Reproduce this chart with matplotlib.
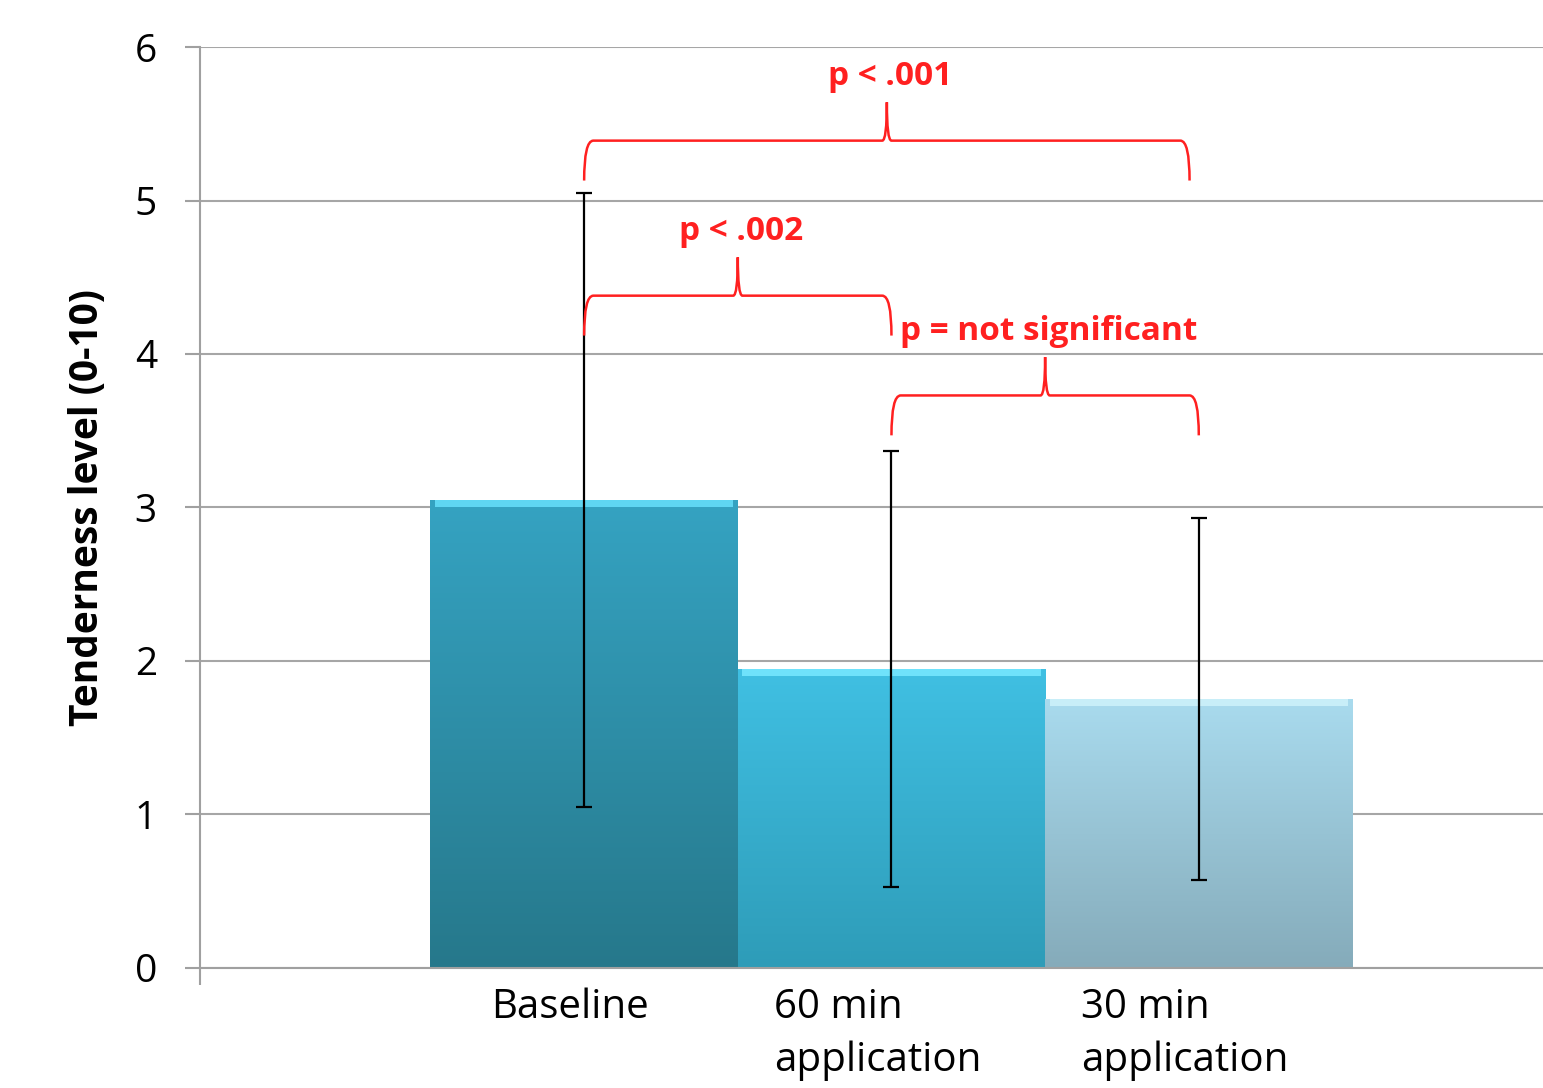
import numpy as np
import matplotlib.pyplot as plt
from matplotlib.path import Path
from matplotlib.patches import PathPatch
from matplotlib.colors import LinearSegmentedColormap
from matplotlib.transforms import ScaledTranslation

plt.rcParams['font.family'] = ['Open Sans', 'DejaVu Sans']

categories = ["Baseline", "60 min\napplication", "30 min\napplication"]
means = [3.05, 1.95, 1.75]
errors = [2.0, 1.42, 1.18]
top_colors = ["#35a3c2", "#40c0e3", "#a9dbee"]
bottom_colors = ["#26788b", "#2e9cb8", "#85abba"]
highlight = ["#5fd6f2", "#6fe2fb", "#c8eef8"]

# comparisons: (left index, right index, level of brace ends, label)
comparisons = [
    (0, 1.97, 5.13, "p < .001"),
    (0, 1.0, 4.12, "p < .002"),
    (1.0, 2.0, 3.47, "p = not significant"),
]

fig = plt.figure(figsize=(15.43, 10.88), dpi=100)
ax = fig.add_axes([0.1296, 0.1103, 0.8704, 0.8465])

x = np.arange(len(categories))
bars = ax.bar(x, means, width=1.0, color="none", edgecolor="none", zorder=2)

grad = np.linspace(0, 1, 256).reshape(-1, 1)
for b, c0, c1 in zip(bars, top_colors, bottom_colors):
    cmap = LinearSegmentedColormap.from_list("g", [c1, c0])
    im = ax.imshow(grad, cmap=cmap, aspect="auto", origin="lower",
                   extent=[b.get_x(), b.get_x() + b.get_width(), 0, b.get_height()],
                   zorder=2)
    im.set_clip_path(b)
ax.bar(x, [0.045] * len(means), bottom=[m - 0.045 for m in means], width=0.97,
       color=highlight, edgecolor="none", zorder=3)

ax.errorbar(x, means, yerr=errors, fmt="none", ecolor="black", elinewidth=1.6,
            capsize=6, capthick=1.6, zorder=4)

ax.set_xlim(-1.25, 3.12)
ax.set_ylim(0, 6)
ax.set_yticks(range(7))
ax.set_xticks(x)
ax.set_xticklabels(categories, fontsize=29, linespacing=1.4, multialignment="left")
ax.set_xticks([-1.25], minor=True)
ax.tick_params(axis="x", which="major", length=0, pad=14)
ax.tick_params(axis="x", which="minor", length=12, color="#a0a0a0", width=1.5)
ax.tick_params(axis="y", length=11, color="#a0a0a0", width=1.5, labelsize=28, pad=20)
for lab in ax.get_xticklabels():
    lab.set_verticalalignment("top")
    lab.set_transform(lab.get_transform() + ScaledTranslation(-0.14, 0, fig.dpi_scale_trans))

ax.grid(axis="y", color="#a6a6a6", linewidth=1.5, zorder=0)
ax.set_axisbelow(True)
for s in ["top", "right"]:
    ax.spines[s].set_visible(False)
for s in ["left", "bottom"]:
    ax.spines[s].set_color("#a0a0a0")
    ax.spines[s].set_linewidth(1.5)

ax.set_ylabel("Tenderness level (0-10)", fontsize=28, fontweight="bold", labelpad=20)

# curly braces
dx = 0.03
rise = 0.26
tip = 0.25
for x0, x1, y0, label in comparisons:
    yh = y0 + rise
    xm = (x0 + x1) / 2
    verts = [
        (x0, y0), (x0, yh), (x0 + dx, yh),
        (xm - dx / 2, yh), (xm, yh), (xm, yh + tip),
        (xm, yh), (xm + dx / 2, yh),
        (x1 - dx, yh), (x1, yh), (x1, y0),
    ]
    codes = [Path.MOVETO, Path.CURVE3, Path.CURVE3,
             Path.LINETO, Path.CURVE3, Path.CURVE3,
             Path.CURVE3, Path.CURVE3,
             Path.LINETO, Path.CURVE3, Path.CURVE3]
    ax.add_patch(PathPatch(Path(verts, codes), facecolor="none", edgecolor="#ff2020",
                           linewidth=1.8, zorder=5, clip_on=False))
    ax.text(xm + 0.01, yh + tip + 0.06, label, color="#ff2020", fontsize=24,
            fontweight="bold", ha="center", va="bottom", zorder=5)

fig.savefig("out.png", dpi=100)
